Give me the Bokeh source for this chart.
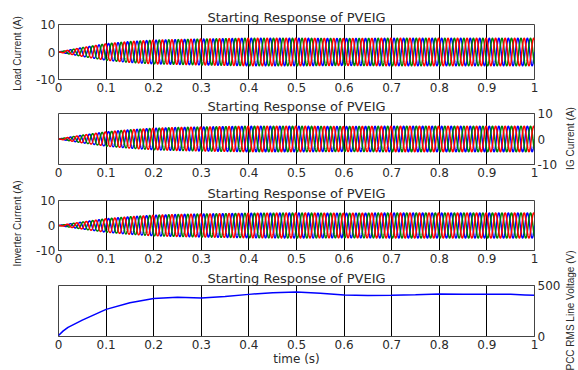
import numpy as np
from bokeh.plotting import figure
from bokeh.layouts import column, row
from bokeh.models import FixedTicker, Label, Range1d
from bokeh.embed import file_html
from bokeh.resources import INLINE

# ---------------- data ----------------
title_text = "Starting Response of PVEIG"
x_ticks = [0, 0.1, 0.2, 0.3, 0.4, 0.5, 0.6, 0.7, 0.8, 0.9, 1]
x_tick_labels = ["0", "0.1", "0.2", "0.3", "0.4", "0.5", "0.6", "0.7", "0.8", "0.9", "1"]
current_y_ticks = [-10, 0, 10]
current_y_labels = ["-10", "0", "10"]
voltage_y_ticks = [0, 500]
voltage_y_labels = ["0", "500"]

# envelope (peak amplitude, A) of the three-phase currents
env_t = [0, 0.05, 0.1, 0.15, 0.2, 0.25, 0.3, 0.4, 0.5, 0.6, 0.7, 0.8, 0.9, 1.0]
load_amp = [0, 1.6, 3.0, 3.8, 4.3, 4.5, 4.7, 5.0, 5.0, 4.9, 5.0, 5.0, 5.0, 5.0]
ig_amp = [0, 1.5, 2.8, 3.6, 4.2, 4.5, 4.7, 5.0, 5.0, 4.9, 5.0, 5.0, 5.0, 5.0]
inv_amp = [0, 1.4, 2.7, 3.5, 4.1, 4.4, 4.6, 4.9, 5.0, 4.9, 5.0, 5.0, 5.0, 5.0]
freq_hz = 50
phase_deg = [0, -120, 120]
phase_colors = ["#0000FF", "#008000", "#FF0000"]

# PCC RMS line voltage (V)
volt_t = [0, 0.01, 0.02, 0.05, 0.1, 0.15, 0.2, 0.25, 0.3, 0.35, 0.4, 0.45, 0.5,
          0.55, 0.6, 0.65, 0.7, 0.75, 0.8, 0.85, 0.9, 0.95, 0.98, 1.0]
volt_v = [10, 55, 90, 160, 266, 330, 372, 385, 378, 391, 413, 430, 436,
          423, 407, 401, 404, 410, 417, 415, 413, 414, 408, 404]

ylabels_left = ["Load Current (A)", "Inverter Current (A)"]
ylabels_right = ["IG Current (A)", "PCC RMS Line Voltage (V)"]
xlabel = "time (s)"

# ---------------- styling ----------------
TICK_FONT = "DejaVu Sans"
LABEL_FONT = "Liberation Sans"
TXT = "#2a2a2a"
TOTAL_H = 370
MAIN_W = 533

t = np.linspace(0, 1, 6001)


def make_fig(height, top, bottom, yr, yticks, ylabels, right=False, xlab=None):
    p = figure(width=MAIN_W, height=height, x_range=Range1d(0, 1), y_range=Range1d(*yr),
               toolbar_location=None, output_backend="svg",
               y_axis_location="right" if right else "left",
               min_border_left=28, min_border_right=24,
               min_border_top=top, min_border_bottom=bottom)
    p.title.text = title_text
    p.title.align = "center"
    p.title.text_font = TICK_FONT
    p.title.text_font_size = "13px"
    p.title.text_font_style = "normal"
    p.title.text_color = TXT
    p.title.standoff = 0
    p.title.offset = 0
    p.xaxis.ticker = FixedTicker(ticks=x_ticks)
    p.xaxis.major_label_overrides = {k: v for k, v in zip(x_ticks, x_tick_labels)}
    p.yaxis.ticker = FixedTicker(ticks=yticks)
    p.yaxis.major_label_overrides = {k: v for k, v in zip(yticks, ylabels)}
    for ax in (p.xaxis, p.yaxis):
        ax.major_label_text_font = TICK_FONT
        ax.major_label_text_font_size = "12px"
        ax.major_label_text_color = TXT
        ax.major_label_standoff = 3
        ax.major_tick_in = 0
        ax.major_tick_out = 0
        ax.minor_tick_line_color = None
        ax.axis_line_color = "#444444"
        ax.axis_label_standoff = 0
    if xlab:
        p.xaxis.axis_label = xlab
        p.xaxis.axis_label_text_font = TICK_FONT
        p.xaxis.axis_label_text_font_size = "12px"
        p.xaxis.axis_label_text_font_style = "normal"
        p.xaxis.axis_label_text_color = TXT
    p.xgrid.ticker = FixedTicker(ticks=x_ticks)
    p.xgrid.grid_line_color = "black"
    p.xgrid.grid_line_alpha = 1
    p.xgrid.grid_line_width = 1
    p.ygrid.visible = False
    p.outline_line_color = "#444444"
    p.background_fill_color = "white"
    p.border_fill_color = "white"
    return p


def add_currents(p, amp):
    env = np.interp(t, env_t, amp)
    for ph, col in zip(phase_deg, phase_colors):
        y = env * np.sin(2 * np.pi * freq_hz * t + np.deg2rad(ph))
        p.line(t, y, line_color=col, line_width=1.5)


f1 = make_fig(96, 24, 17, (-10, 10), current_y_ticks, current_y_labels)
add_currents(f1, load_amp)
f2 = make_fig(87, 16, 19, (-10, 10), current_y_ticks, current_y_labels, right=True)
add_currents(f2, ig_amp)
f3 = make_fig(85, 15, 18, (-10, 10), current_y_ticks, current_y_labels)
add_currents(f3, inv_amp)
f4 = make_fig(102, 16, 34, (0, 500), voltage_y_ticks, voltage_y_labels, right=True, xlab=xlabel)
f4.line(volt_t, volt_v, line_color="#0000FF", line_width=1.5)


def strip(width, labels):
    s = figure(width=width, height=TOTAL_H, x_range=Range1d(0, width),
               y_range=Range1d(0, TOTAL_H),
               toolbar_location=None, output_backend="svg", min_border=0)
    s.axis.visible = False
    s.grid.visible = False
    s.outline_line_color = None
    s.background_fill_color = "white"
    s.border_fill_color = "white"
    for x, y, txt in labels:
        s.add_layout(Label(x=x, y=y, text=txt, angle=np.pi / 2, text_align="center",
                           text_baseline="middle", text_font=LABEL_FONT,
                           text_font_size="10px", text_color=TXT))
    return s


left = strip(30, [(17, TOTAL_H - 53, ylabels_left[0]), (17, TOTAL_H - 223, ylabels_left[1])])
right = strip(15, [(7, TOTAL_H - 138, ylabels_right[0]), (7, TOTAL_H - 310, ylabels_right[1])])

layout = row(left, column(f1, f2, f3, f4), right)

open("out.html", "w").write(file_html(layout, INLINE))
